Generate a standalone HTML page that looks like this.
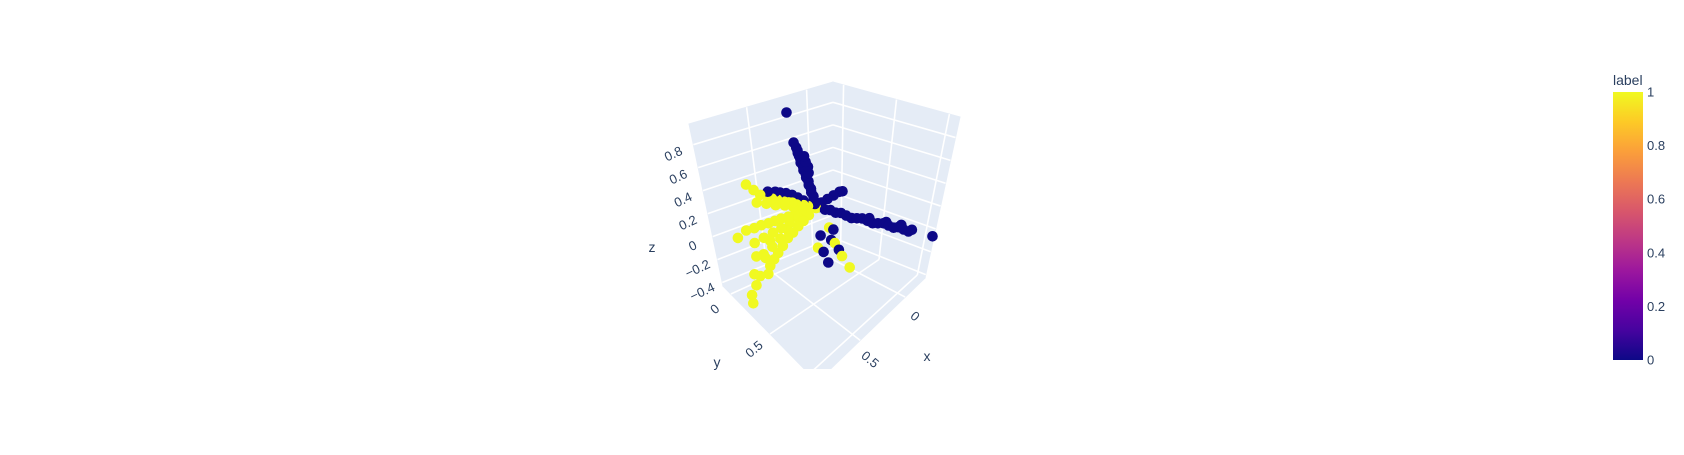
<!DOCTYPE html>
<html><head><meta charset="utf-8"><style>
html,body{margin:0;padding:0;background:#fff;}
body{width:1684px;height:450px;overflow:hidden;font-family:"Liberation Sans",sans-serif;}
text{font-family:"Liberation Sans",sans-serif;fill:#2a3f5f;}
</style></head><body>
<svg id="chart" width="1684" height="450" xmlns="http://www.w3.org/2000/svg">
<defs>
<clipPath id="sceneClip"><rect x="0" y="0" width="1684" height="369"/></clipPath>
<linearGradient id="plasma" x1="0" y1="1" x2="0" y2="0">
<stop offset="0" stop-color="#0d0887"/><stop offset="0.111" stop-color="#46039f"/><stop offset="0.222" stop-color="#7201a8"/>
<stop offset="0.333" stop-color="#9c179e"/><stop offset="0.444" stop-color="#bd3786"/><stop offset="0.556" stop-color="#d8576b"/>
<stop offset="0.667" stop-color="#ed7953"/><stop offset="0.778" stop-color="#fb9f3a"/><stop offset="0.889" stop-color="#fdca26"/>
<stop offset="1" stop-color="#f0f921"/></linearGradient>
</defs>
<g id="scene" clip-path="url(#sceneClip)"></g>
<g id="labels"></g>
<g>
<text x="1613" y="85" font-size="14">label</text>
<rect x="1613" y="92" width="30" height="268" fill="url(#plasma)"/>
<g id="cbticks"></g>
</g>
</svg>
<script>
// axis ranges
const xRange = [-0.22, 0.98];
const yRange = [-0.1, 1.1];
const zRange = [-0.43, 0.98];
const xTicks = [0, 0.5];
const yTicks = [0, 0.5, 1];
const zTicks = [-0.4, -0.2, 0, 0.2, 0.4, 0.6, 0.8];
const xTickLabels = ["0", "0.5"];
const yTickLabels = ["0", "0.5", "1"];
const zTickLabels = ["−0.4", "−0.2", "0", "0.2", "0.4", "0.6", "0.8"];
const cbTicks = [0, 0.2, 0.4, 0.6, 0.8, 1];
const cbTickLabels = ["0", "0.2", "0.4", "0.6", "0.8", "1"];

// label 0 points (x, y, z)
const blueX = [
 0.07,0.08,0.09,0.11,0.12,0.14,0.15,0.17,0.18,0.2,0.21,0.23,0.24,0.25,0.26,0.27,0.28,0.3,0.2,0.22,0.24,0.18,0.37,
 0.04,0.03,0.02,0.01,0.0,-0.01,-0.02,-0.03,-0.04,-0.05,-0.06,-0.07,-0.08,-0.09,-0.1,-0.1,-0.11,-0.12,-0.125,-0.05,-0.08,-0.11,-0.2,
 -0.02,-0.08,-0.14,-0.2,-0.22,
 0.1,0.1,0.1,0.1,0.1,0.1,
 0.6,0.51,0.45,0.38,0.31,0.25,0.18];
const blueY = [
 0.03,0.03,0.04,0.04,0.05,0.05,0.06,0.06,0.07,0.07,0.08,0.08,0.09,0.09,0.09,0.1,0.1,0.1,0.12,0.12,0.13,0.1,0.13,
 0.05,0.1,0.15,0.2,0.25,0.3,0.35,0.4,0.45,0.5,0.55,0.6,0.65,0.7,0.75,0.8,0.85,0.9,0.93,0.52,0.68,0.82,1.1,
 0,0,0,0,0.01,
 0.125,0.22,0.35,0.28,0.255,0.16,
 0.15,0.12,0.1,0.08,0.06,0.05,0.03];
const blueZ = [
 0.04,0.08,0.12,0.16,0.2,0.24,0.28,0.32,0.36,0.4,0.44,0.48,0.52,0.55,0.58,0.61,0.64,0.69,0.45,0.5,0.56,0.38,0.99,
 0.01,0,0.01,0,0.01,0,-0.01,0,0.01,0,-0.01,0,0.01,0,-0.01,0.01,0,-0.01,0.01,0.03,0.03,0.03,-0.05,
 0.01,0.02,0.03,0.04,0.04,
 -0.19,-0.39,-0.23,-0.08,-0.18,-0.32,
 0.4,0.35,0.31,0.27,0.22,0.17,0.11];

// label 1 points (x, y, z)
const yelX = [
 0.79,0.73,0.67,0.6,0.55,0.49,0.42,0.37,0.32,0.27,0.23,0.18,0.13,0.7,0.6,0.5,0.4,0.3,0.2,
 0.85,0.77,0.7,0.63,0.56,0.49,0.42,0.35,0.28,0.21,0.14,0.75,0.65,0.55,0.45,0.35,0.25,
 0.97,0.95,0.81,0.75,0.58,0.45,0.3,0.15,0.88,0.7,0.64,0.52,0.38,0.23,0.85,0.7,0.6,0.5,0.4,
 0.78,0.7,0.6,
 0.1,0.1,0.1,0.1,0.1,0.06];
const yelY = [
 0.16,0.16,0.15,0.14,0.13,0.11,0.1,0.09,0.07,0.06,0.05,0.03,0.02,0.14,0.12,0.1,0.08,0.05,0.03,
 0.05,0.06,0.07,0.07,0.07,0.06,0.05,0.05,0.04,0.03,0.02,0.12,0.11,0.1,0.08,0.06,0.04,
 0.3,0.27,0.22,0.25,0.18,0.15,0.1,0.05,0.25,0.22,0.2,0.17,0.13,0.08,0.2,0.17,0.14,0.12,0.1,
 0.16,0.15,0.12,
 0.49,0.39,0.3,0.09,0.23,0.03];
const yelZ = [
 0.54,0.47,0.4,0.35,0.31,0.27,0.22,0.19,0.16,0.12,0.1,0.07,0.04,0.34,0.28,0.22,0.17,0.11,0.06,
 0.04,0.08,0.08,0.08,0.07,0.06,0.05,0.04,0.03,0.02,0.01,0.0,0.0,0.0,-0.01,-0.01,-0.01,
 -0.31,-0.27,-0.2,-0.19,-0.12,-0.06,-0.04,-0.02,-0.23,-0.16,-0.14,-0.09,-0.05,-0.03,-0.18,-0.12,-0.08,-0.06,-0.04,
 -0.08,-0.1,-0.04,
 -0.33,-0.27,-0.19,-0.31,-0.08,0];

// projection (trilinear between screen corners of the scene box)
const C = {
 '000':[833,241],'100':[723,286],'010':[925,278],'110':[817,382],
 '001':[833,82],'101':[689,124],'011':[960,117],'111':[816,205]};
function nx(x){return (x-xRange[0])/(xRange[1]-xRange[0]);}
function ny(y){return (y-yRange[0])/(yRange[1]-yRange[0]);}
function nz(z){return (z-zRange[0])/(zRange[1]-zRange[0]);}
function proj(x,y,z){
 const u=nx(x),v=ny(y),w=nz(z);
 let px=0,py=0;
 for(const k in C){
  const a=k[0]==='1'?u:1-u, b=k[1]==='1'?v:1-v, c=k[2]==='1'?w:1-w;
  const f=a*b*c; px+=f*C[k][0]; py+=f*C[k][1];
 }
 return [px,py];
}
const NS='http://www.w3.org/2000/svg';
const scene=document.getElementById('scene');
const labels=document.getElementById('labels');
function mk(tag,attrs,parent){const e=document.createElementNS(NS,tag);for(const k in attrs)e.setAttribute(k,attrs[k]);parent.appendChild(e);return e;}
function poly(pts){return pts.map(p=>p[0].toFixed(1)+','+p[1].toFixed(1)).join(' ');}
const X0=xRange[0],X1=xRange[1],Y0=yRange[0],Y1=yRange[1],Z0=zRange[0],Z1=zRange[1];

// walls
const walls=[
 ['back-left-wall',[proj(X0,Y0,Z0),proj(X1,Y0,Z0),proj(X1,Y0,Z1),proj(X0,Y0,Z1)]],
 ['back-right-wall',[proj(X0,Y0,Z0),proj(X0,Y1,Z0),proj(X0,Y1,Z1),proj(X0,Y0,Z1)]],
 ['floor',[proj(X0,Y0,Z0),proj(X1,Y0,Z0),proj(X1,Y1,Z0),proj(X0,Y1,Z0)]]];
walls.forEach(w=>{
 const p=mk('polygon',{points:poly(w[1]),fill:'#e5ecf6',stroke:'#e5ecf6','stroke-width':1},scene);
 
 
});
function line(a,b,name){
 const l=mk('line',{x1:a[0],y1:a[1],x2:b[0],y2:b[1],stroke:'#fff','stroke-width':1.6},scene);
 
 
}
zTicks.forEach(z=>{
 line(proj(X0,Y0,z),proj(X1,Y0,z),'z-gridline');
 line(proj(X0,Y0,z),proj(X0,Y1,z),'z-gridline');
});
xTicks.forEach(x=>{
 line(proj(x,Y0,Z0),proj(x,Y0,Z1),'x-gridline');
 line(proj(x,Y0,Z0),proj(x,Y1,Z0),'x-gridline');
});
yTicks.forEach(y=>{
 line(proj(X0,y,Z0),proj(X0,y,Z1),'y-gridline');
 line(proj(X0,y,Z0),proj(X1,y,Z0),'y-gridline');
});

// points sorted by depth
const pts=[];
blueX.forEach((x,i)=>pts.push([x,blueY[i],blueZ[i],'#0d0887','point-label-0']));
yelX.forEach((x,i)=>pts.push([x,yelY[i],yelZ[i],'#f0f921','point-label-1']));
pts.sort((a,b)=>(nx(a[0])+ny(a[1]))-(nx(b[0])+ny(b[1])));
pts.forEach(p=>{
 const s=proj(p[0],p[1],p[2]);
 const c=mk('circle',{cx:s[0].toFixed(1),cy:s[1].toFixed(1),r:5.3,fill:p[3]},scene);
 
 
});

// tick labels
function lbl(txt,p,dx,dy,rot,name,size){
 const x=p[0]+dx,y=p[1]+dy;
 const t=mk('text',{x:x.toFixed(1),y:y.toFixed(1),'font-size':size||13,'text-anchor':'middle','dominant-baseline':'central',transform:'rotate('+rot+' '+x.toFixed(1)+' '+y.toFixed(1)+')'},labels);
 t.textContent=txt;
 
 
}
zTicks.forEach((z,i)=>lbl(zTickLabels[i],proj(X1,Y0,z),-20,9,-25,'z-tick-label'));
xTicks.forEach((x,i)=>lbl(xTickLabels[i],proj(x,Y1,Z0),10,19,40,'x-tick-label'));
yTicks.forEach((y,i)=>{ if(ny(y)<0.9) lbl(yTickLabels[i],proj(X1,y,Z0),-16,15,-40,'y-tick-label'); });
lbl('z',[652,247],0,0,0,'z-axis-title',14);
lbl('y',[717,362],0,0,0,'y-axis-title',14);
lbl('x',[927,356],0,0,0,'x-axis-title',14);

// colorbar ticks
const cb=document.getElementById('cbticks');
cbTicks.forEach((v,i)=>{
 const y=360-v*268;
 const t=mk('text',{x:1647,y:y.toFixed(1),'font-size':13,'dominant-baseline':'central'},cb);
 t.textContent=cbTickLabels[i];
 
 
});
</script>
</body></html>
